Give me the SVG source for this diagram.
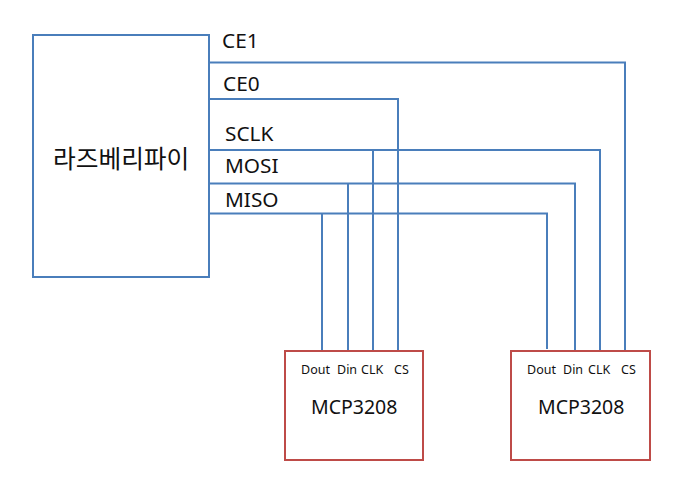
<svg xmlns="http://www.w3.org/2000/svg" width="687" height="489" viewBox="0 0 687 489">
<style>
text{font-family:"Noto Sans","Noto Sans CJK KR",sans-serif;fill:#111}
.b{fill:#fff;stroke:#4a7ebb;stroke-width:2}
.r{fill:#fff;stroke:#be4b48;stroke-width:2}
.c{fill:none;stroke:#4a7ebb;stroke-width:2}
.l{font-size:20.800px}
.s{font-size:12.500px}
.m{font-size:19.500px}
</style>
<rect width="687" height="489" fill="#fff"/>
<g id="connectors">
<path class="c" d="M209 62.500H625V351"/>
<path class="c" d="M209 99H398V351"/>
<path class="c" d="M209 150H600V353"/>
<path class="c" d="M209 183.500H575V351"/>
<path class="c" d="M209 213.500H547V349"/>
<path class="c" d="M322 213.500V351"/>
<path class="c" d="M348 183.500V351"/>
<path class="c" d="M373 150V351"/>
</g>
<g id="raspberrypi">
<rect class="b" x="33" y="35" width="176" height="242"/>
<text x="53" y="168" style="font-size:24.700px;font-family:'Noto Sans CJK KR',sans-serif">라즈베리파이</text>
</g>
<g id="labels">
<text class="l" x="222" y="48">CE1</text>
<text class="l" x="223" y="91">CE0</text>
<text class="l" x="225" y="141">SCLK</text>
<text class="l" x="225" y="173">MOSI</text>
<text class="l" x="225" y="207">MISO</text>
</g>
<g id="mcp1">
<rect class="r" x="285" y="351" width="138" height="109"/>
<text class="s" x="301" y="374">Dout</text>
<text class="s" x="337" y="374">Din</text>
<text class="s" x="361" y="374">CLK</text>
<text class="s" x="394" y="374">CS</text>
<text class="m" x="311" y="414">MCP3208</text>
</g>
<g id="mcp2">
<rect class="r" x="511" y="351" width="139" height="109"/>
<text class="s" x="527" y="374">Dout</text>
<text class="s" x="563" y="374">Din</text>
<text class="s" x="588" y="374">CLK</text>
<text class="s" x="621" y="374">CS</text>
<text class="m" x="538" y="414">MCP3208</text>
</g>
</svg>
